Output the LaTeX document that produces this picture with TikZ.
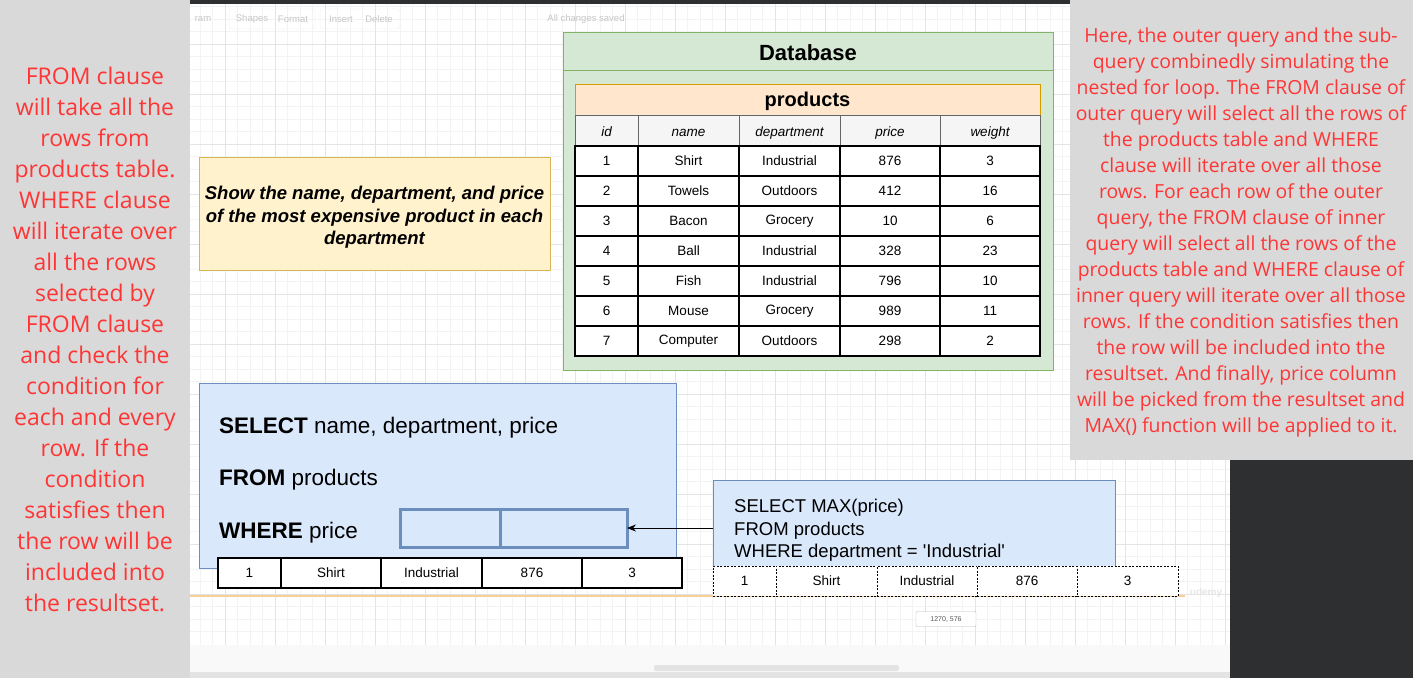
\documentclass[tikz,border=0pt]{standalone}
\usepackage{fontspec}
\setmainfont{Liberation Sans}
\newfontfamily\notefont{Open Sans}
\usetikzlibrary{arrows.meta}

\definecolor{panelgray}{HTML}{D9D9D9}
\definecolor{notered}{HTML}{FF3535}
\definecolor{darkbar}{HTML}{2E2F31}
\definecolor{gridminor}{HTML}{F3F3F3}
\definecolor{gridmajor}{HTML}{E4E4E4}
\definecolor{uigray}{HTML}{C6C6C6}
\definecolor{uiline}{HTML}{EFEFEF}
\definecolor{tabfill}{HTML}{F8F8F8}
\definecolor{footfill}{HTML}{E3E3E3}
\definecolor{tipline}{HTML}{BBBBBB}
\definecolor{tiptext}{HTML}{555555}
\definecolor{markgray}{HTML}{E6E6E6}
\definecolor{dbfill}{HTML}{D5E8D4}
\definecolor{dbline}{HTML}{82B366}
\definecolor{prodfill}{HTML}{FFE6CC}
\definecolor{prodline}{HTML}{D79B00}
\definecolor{askfill}{HTML}{FFF2CC}
\definecolor{askline}{HTML}{D6B656}
\definecolor{sqlfill}{HTML}{DAE8FC}
\definecolor{sqlline}{HTML}{6C8EBF}
\definecolor{hdrfill}{HTML}{F5F5F5}
\definecolor{hdrline}{HTML}{666666}
\definecolor{rowline}{HTML}{F9CF99}

\begin{document}
\begin{tikzpicture}[x=1pt, y=-1pt,
  cell/.style={draw, fill=white, line width=1.4pt, minimum height=30pt,
    inner sep=0pt, outer sep=0pt, font=\fontsize{13.5}{16}\selectfont},
  hdr/.style={cell, draw=hdrline, line width=1pt, fill=hdrfill, minimum height=31pt,
    text height=12.5pt, text depth=0pt, font=\fontsize{13.5}{16}\selectfont\itshape},
  dashcell/.style={cell, line width=0.8pt, dash pattern=on 2pt off 1.5pt},
  sqlbox/.style={draw=sqlline, fill=sqlfill, line width=1pt, inner sep=0pt, outer sep=0pt},
  slot/.style={draw=sqlline, line width=3pt, minimum height=38pt, inner sep=0pt, outer sep=0pt},
  sqltext/.style={anchor=west, inner sep=0pt, font=\fontsize{22.5}{26}\selectfont},
  sidenote/.style={align=center, text=notered, inner sep=0pt},
  uitext/.style={text=uigray, inner sep=0pt, font=\fontsize{9.5}{11}\selectfont}]
  \useasboundingbox (0,0) rectangle (1413,678);

  % canvas with grid
  \fill[white] (190,0) rectangle (1230,678);
  \foreach \gx in {200,212.5,...,1226} \draw[gridminor, line width=0.6pt] (\gx,4) -- (\gx,645);
  \foreach \gy in {6.5,19,...,641} \draw[gridminor, line width=0.6pt] (190,\gy) -- (1230,\gy);
  \foreach \gx in {225,275,...,1226} \draw[gridmajor, line width=0.8pt] (\gx,4) -- (\gx,645);
  \foreach \gy in {44,94,...,641} \draw[gridmajor, line width=0.8pt] (190,\gy) -- (1230,\gy);
  \fill[darkbar] (190,0) rectangle (1230,4);
  \fill[tabfill, opacity=0.8] (190,645) rectangle (1230,672);
  \fill[footfill] (190,672) rectangle (1230,678);
  \fill[footfill, rounded corners=2pt] (654,665) rectangle (899,671);

  % toolbar
  \draw[uiline, rounded corners=3pt] (229,9) rectangle (315,29);
  \draw[uiline, rounded corners=3pt] (320,9) rectangle (400,29);
  \node[uitext] (tbdiagram) at (203,19) {ram};
  \node[uitext] (tbshapes) at (252,19) {Shapes};
  \node[uitext] (tbformat) at (293,19) {Format};
  \node[uitext] (tbinsert) at (341,19) {Insert};
  \node[uitext] (tbdelete) at (379,19) {Delete};
  \node[uitext] (tbsaved) at (586,19) {All changes saved};

  % side notes
  \fill[panelgray] (0,0) rectangle (190,678);
  \fill[panelgray] (1070,0) rectangle (1413,460);
  \fill[darkbar] (1230,460) rectangle (1413,678);
  \node[sidenote, font=\notefont\fontsize{23}{31}\selectfont] (leftnote) at (95,339.5)
    {FROM clause\\will take all the\\rows from\\products table.\\WHERE clause\\will iterate over\\
     all the rows\\selected by\\FROM clause\\and check the\\condition for\\each and every\\
     row. If the\\condition\\satisfies then\\the row will be\\included into\\the resultset.};
  \node[sidenote, font=\notefont\fontsize{19.4}{26}\selectfont] (rightnote) at (1241,232)
    {Here, the outer query and the sub-\\query combinedly simulating the\\
     nested for loop. The FROM clause of\\outer query will select all the rows of\\
     the products table and WHERE\\clause will iterate over all those\\
     rows. For each row of the outer\\query, the FROM clause of inner\\
     query will select all the rows of the\\products table and WHERE clause of\\
     inner query will iterate over all those\\rows. If the condition satisfies then\\
     the row will be included into the\\resultset. And finally, price column\\
     will be picked from the resultset and\\MAX() function will be applied to it.};

  % question
  \node[draw=askline, fill=askfill, line width=1pt, minimum width=351pt, minimum height=113pt] (ask) at (374.5,213.5) {};
  \node[align=center, inner sep=0pt, font=\fontsize{18.5}{22.5}\selectfont\bfseries\itshape] (asktext) at (374.5,217.5)
    {Show the name, department, and price\\of the most expensive product in each\\department};

  % database
  \node[draw=dbline, fill=dbfill, line width=1pt, minimum width=490pt, minimum height=338pt] (db) at (808,201) {};
  \coordinate (dbrule) at (0,70);
  \draw[dbline, line width=1pt] (db.west |- dbrule) -- (db.east |- dbrule);
  \node[font=\fontsize{22}{26}\selectfont\bfseries] (dbtitle) at (808,53) {Database};
  \node[draw=prodline, fill=prodfill, line width=1pt, minimum width=465pt, minimum height=31pt,
    inner sep=0pt, text height=16pt, text depth=2pt, font=\fontsize{20}{24}\selectfont\bfseries] (prod) at (807.5,99.5) {products};
  \foreach \cx/\cw/\ct [count=\c] in {606.5/63/id, 688.5/101/name, 789.5/101/department, 890/100/price, 990/100/weight}
    \node[hdr, minimum width=\cw pt] (h-\c) at (\cx,130.5) {\ct};
  \foreach \id/\nm/\dep/\pr/\wt [count=\r] in {1/Shirt/Industrial/876/3, 2/Towels/Outdoors/412/16,
      3/Bacon/Grocery/10/6, 4/Ball/Industrial/328/23, 5/Fish/Industrial/796/10,
      6/Mouse/Grocery/989/11, 7/Computer/Outdoors/298/2} {
    \pgfmathsetmacro\cy{161+30*(\r-1)}
    \foreach \cx/\cw/\ct [count=\c] in {606.5/63/\id, 688.5/101/\nm, 789.5/101/\dep, 890/100/\pr, 990/100/\wt}
      \node[cell, minimum width=\cw pt] (r\r-\c) at (\cx,\cy) {\ct};
  }

  % outer query
  \node[sqlbox, minimum width=477pt, minimum height=185pt] (outer) at (437.5,475.5) {};
  \node[sqltext] (osel) at (219,428) {\textbf{SELECT} name, department, price};
  \node[sqltext] (ofrom) at (219,480) {\textbf{FROM} products};
  \node[sqltext] (owhere) at (219,533) {\textbf{WHERE} price};
  \node[slot, minimum width=100pt] (slotl) at (450,528) {};
  \node[slot, minimum width=127pt] (slotr) at (563.5,528) {};
  \draw[rowline, line width=1.5pt] (190,596) -- (1185,596);
  \foreach \cx/\cw/\ct [count=\c] in {249.5/63/1, 331/100/Shirt, 431.5/101/Industrial, 532/100/876, 632/100/3}
    \node[cell, minimum width=\cw pt] (orow-\c) at (\cx,573) {\ct};

  % inner query
  \node[sqlbox, minimum width=402pt, minimum height=86pt] (inner) at (914,523) {};
  \node[anchor=west, align=left, inner sep=0pt, font=\fontsize{18.5}{22.5}\selectfont] (innertxt) at (734,530.5)
    {SELECT MAX(price)\\FROM products\\WHERE department = \textquotesingle Industrial\textquotesingle};
  \foreach \cx/\cw/\ct [count=\c] in {744.5/63/1, 826.5/101/Shirt, 927/100/Industrial, 1027/100/876, 1127.5/101/3}
    \node[dashcell, minimum width=\cw pt] (irow-\c) at (\cx,581) {\ct};
  \draw[-{Stealth[length=9pt,width=7pt]}, line width=0.9pt] (inner.west |- slotr.east) -- (slotr.east);

  \node[draw=tipline, fill=white, rounded corners=1pt, minimum width=60pt, minimum height=15pt,
    inner sep=0pt, font=\fontsize{7}{8}\selectfont, text=tiptext] (pos) at (946,619) {1270, 576};
  \node[text=markgray, inner sep=0pt, font=\fontsize{10}{12}\selectfont\bfseries] (mark) at (1206,593) {udemy};
\end{tikzpicture}
\end{document}
